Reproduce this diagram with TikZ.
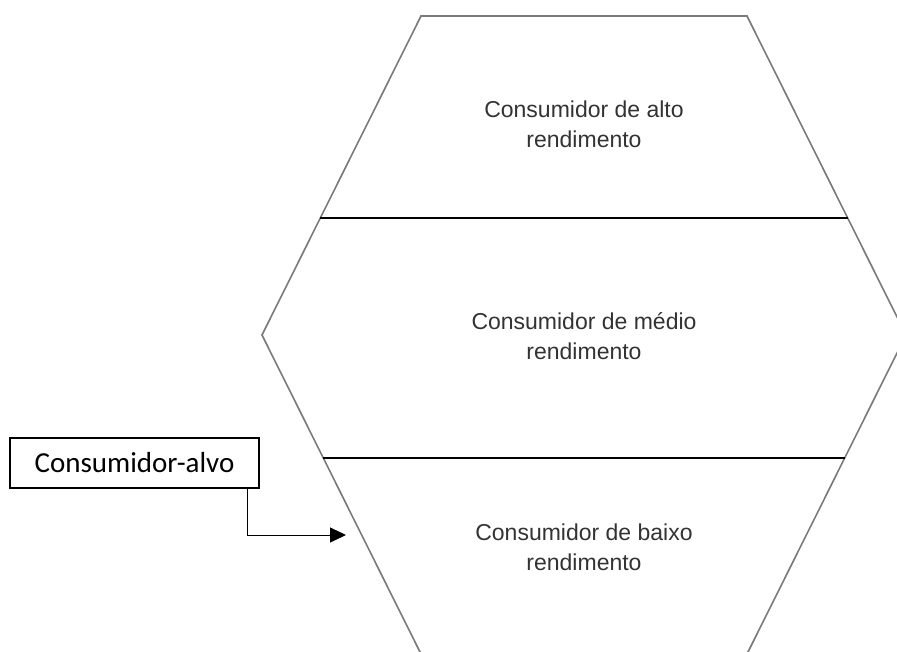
\documentclass[tikz,border=0pt]{standalone}
\usepackage{fontspec}
\setmainfont{Liberation Sans}
\newfontfamily\calfont{Carlito}
\usetikzlibrary{arrows.meta,calc}
\definecolor{hexgray}{HTML}{7A7A7A}
\definecolor{txtgray}{HTML}{333333}
\begin{document}
\begin{tikzpicture}[x=1pt,y=-1pt,
  hexline/.style={draw=hexgray, line width=1.6pt, line join=miter},
  sepline/.style={draw=black, line width=1.4pt},
  hextext/.style={align=center, text=txtgray, inner sep=0pt, font=\fontsize{23}{30}\selectfont},
  tagbox/.style={draw=black, line width=1.3pt, minimum width=249pt, minimum height=50pt, inner sep=0pt, font=\calfont\fontsize{29}{34}\selectfont},
  arrowline/.style={draw=black, line width=1pt, -{Triangle[length=16pt,width=15pt]}}]
\useasboundingbox (0,0) rectangle (897,651);
\fill[white] (0,0) rectangle (897,651);
% hexagon
\coordinate (h1) at (421,16);
\coordinate (h2) at (747,16);
\coordinate (h3) at (906,335);
\coordinate (h4) at (747,654);
\coordinate (h5) at (421,654);
\coordinate (h6) at (262,335);
\draw[hexline] (h1) -- (h2) -- (h3) -- (h4) -- (h5) -- (h6) -- cycle;
% separators
\coordinate (s1l) at (320.3,218);
\coordinate (s1r) at (847.7,218);
\coordinate (s2l) at (323.3,458);
\coordinate (s2r) at (844.7,458);
\draw[sepline] (s1l) -- (s1r);
\draw[sepline] (s2l) -- (s2r);
% texts
\node[hextext] (alto) at (584,124) {Consumidor de alto\\rendimento};
\node[hextext] (medio) at (584,336) {Consumidor de médio\\rendimento};
\node[hextext] (baixo) at (584,547) {Consumidor de baixo\\rendimento};
% target box
\node[tagbox] (box) at (134.5,463) {Consumidor-alvo};
\coordinate (tgt) at (346,535);
\draw[arrowline] ($(box.south east)+(-12,0)$) |- (tgt);
\end{tikzpicture}
\end{document}
